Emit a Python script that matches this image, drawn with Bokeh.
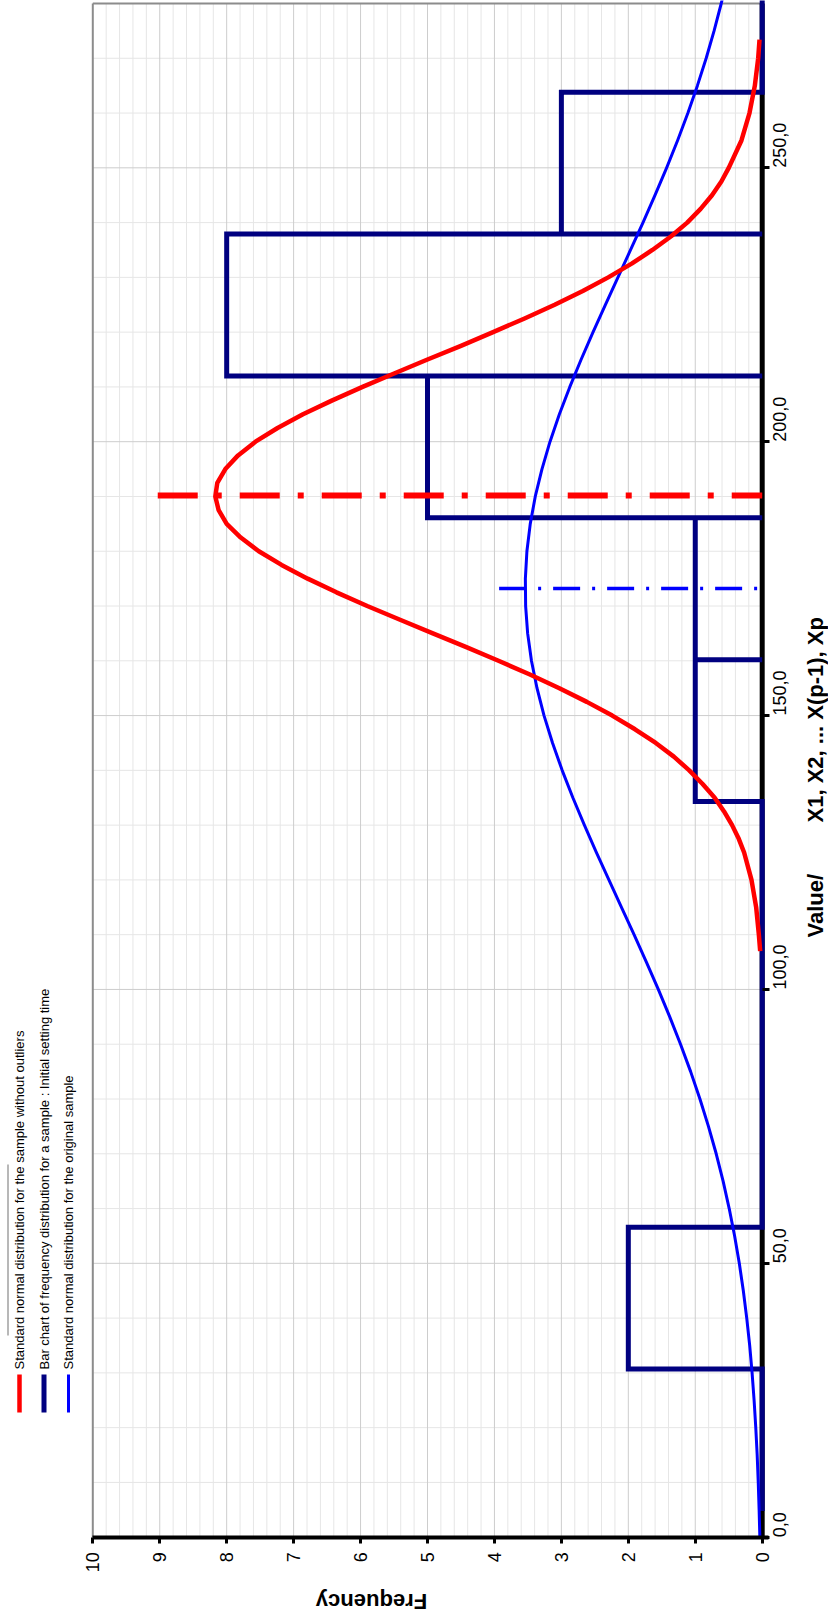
import math
from bokeh.plotting import figure
from bokeh.models import Range1d, FixedTicker, LinearAxis
from bokeh.embed import file_html
from bokeh.resources import INLINE
from bokeh.core.properties import value

# ---------------- data ----------------
bin_lo = [4.8, 30.7, 56.6, 82.5, 108.4, 134.3, 160.2, 186.1, 212.0, 237.9, 263.8]
bin_hi = [30.7, 56.6, 82.5, 108.4, 134.3, 160.2, 186.1, 212.0, 237.9, 263.8, 289.7]
bin_freq = [0, 2, 0, 0, 0, 1, 1, 5, 8, 3, 0]

red_val = [107, 110, 115, 120, 125, 127.5, 130, 132.5, 135, 137.5, 140, 142.5, 145, 147.5,
           150, 152.5, 155, 157.5, 160, 162.5, 165, 167.5, 170, 172.5, 175, 177.5, 180,
           182.5, 185, 187.5, 190, 192.5, 195, 197.5, 200, 202.5, 205, 207.5, 210, 212.5,
           215, 217.5, 220, 222.5, 225, 227.5, 230, 232.5, 235, 237.5, 240, 242.5, 245,
           247.5, 250, 255, 260, 265, 270, 273.4]
red_freq = [0.03, 0.05, 0.09, 0.16, 0.27, 0.35, 0.45, 0.57, 0.71, 0.89, 1.09, 1.32, 1.59, 1.90,
            2.24, 2.62, 3.03, 3.47, 3.94, 4.42, 4.92, 5.41, 5.90, 6.36, 6.79, 7.18, 7.52,
            7.79, 8.00, 8.12, 8.17, 8.14, 8.02, 7.83, 7.57, 7.24, 6.86, 6.43, 5.97, 5.49,
            5.00, 4.50, 4.02, 3.55, 3.10, 2.68, 2.30, 1.95, 1.64, 1.36, 1.12, 0.92, 0.75,
            0.61, 0.50, 0.31, 0.19, 0.11, 0.06, 0.04]

blue_val = [0, 5, 10, 15, 20, 25, 30, 35, 40, 45, 50, 55, 60, 65, 70, 75, 80, 85, 90, 95,
            100, 105, 110, 115, 120, 125, 130, 135, 140, 145, 150, 155, 160, 165, 170, 175,
            180, 185, 190, 195, 200, 205, 210, 215, 220, 225, 230, 235, 240, 245, 250, 255,
            260, 265, 270, 275, 280, 285]
blue_freq = [0.035, 0.046, 0.059, 0.075, 0.096, 0.121, 0.151, 0.187, 0.231, 0.282,
             0.342, 0.412, 0.493, 0.584, 0.687, 0.803, 0.930, 1.069, 1.220, 1.381,
             1.552, 1.730, 1.914, 2.102, 2.290, 2.476, 2.656, 2.828, 2.988, 3.132,
             3.259, 3.364, 3.447, 3.504, 3.534, 3.538, 3.515, 3.465, 3.390, 3.290,
             3.170, 3.030, 2.874, 2.705, 2.527, 2.343, 2.155, 1.967, 1.781, 1.601,
             1.428, 1.264, 1.110, 0.968, 0.837, 0.719, 0.612, 0.517]

red_mean = 190.2
red_mean_len = 9.03
blue_mean = 173.2
blue_mean_len = 3.93

freq_ticks = [0, 1, 2, 3, 4, 5, 6, 7, 8, 9, 10]
value_ticks = [0, 50, 100, 150, 200, 250]
value_tick_labels = ["0,0", "50,0", "100,0", "150,0", "200,0", "250,0"]

legend_texts = ["Standard normal distribution for the sample without outliers",
                "Bar chart of frequency distribution for a sample :  Initial setting time",
                "Standard normal distribution for the original sample"]
legend_colors = ["#ff0000", "#000080", "#0000ff"]
legend_widths = [4.5, 5, 3]

x_title = "Frequency"
y_title_a = "Value/"
y_title_b = "X1, X2,  ... X(p-1), Xp"

FONT = "Liberation Sans"

# ---------------- layout helpers (canvas pixel -> data) ----------------
W, H = 828, 1615
PX_PER_F = 66.94     # pixels per frequency unit
PX_PER_V = 5.4775    # pixels per value unit
X_ZERO = 761.7       # canvas x of frequency 0
Y_ZERO = 1536.7      # canvas y of value 0


def fx(px):
    return (X_ZERO - px) / PX_PER_F


def fy(py):
    return (Y_ZERO - py) / PX_PER_V


F_MAX = 10
V_TOP = 280

p = figure(width=W, height=H,
           x_range=Range1d(fx(0), fx(W)), y_range=Range1d(fy(H), fy(0)),
           x_axis_type=None, y_axis_type=None,
           output_backend="svg", toolbar_location=None, min_border=0)
p.outline_line_color = None
p.background_fill_color = "white"
p.border_fill_color = "white"

# ---- grid lines (plot area only) ----
minor_f = [i / 5 for i in range(1, 50) if i % 5 != 0]
major_f = [f for f in freq_ticks if 0 < f < F_MAX]
minor_v = [v for v in range(10, 280, 10) if v % 50 != 0]
major_v = [v for v in value_ticks if v > 0]
p.segment(x0=minor_f, y0=[0] * len(minor_f), x1=minor_f, y1=[V_TOP] * len(minor_f),
          line_color="#e6e6e6", line_width=1)
p.segment(x0=[0] * len(minor_v), y0=minor_v, x1=[F_MAX] * len(minor_v), y1=minor_v,
          line_color="#e6e6e6", line_width=1)
p.segment(x0=major_f, y0=[0] * len(major_f), x1=major_f, y1=[V_TOP] * len(major_f),
          line_color="#cdcdcd", line_width=1)
p.segment(x0=[0] * len(major_v), y0=major_v, x1=[F_MAX] * len(major_v), y1=major_v,
          line_color="#cdcdcd", line_width=1)
# plot-area border (left and top)
p.segment(x0=[F_MAX, F_MAX], y0=[0, V_TOP], x1=[F_MAX, 0], y1=[V_TOP, V_TOP],
          line_color="#8c8c8c", line_width=2)
# value axis line (under the data)
p.segment(x0=[0], y0=[0], x1=[0], y1=[V_TOP], line_color="black", line_width=5)

# ---- histogram outline ----
hx, hy = [], []
for lo, hi, f in zip(bin_lo, bin_hi, bin_freq):
    hx += [0, f, f, 0]
    hy += [lo, lo, hi, hi]
p.line(hx, hy, line_color="#000080", line_width=5, line_join="miter")

# ---- normal curves ----
p.line(blue_freq, blue_val, line_color="#0000ff", line_width=3, line_join="round")
p.line(red_freq, red_val, line_color="#ff0000", line_width=4.5, line_join="round")

# ---- mean lines ----
p.segment(x0=[red_mean_len], y0=[red_mean], x1=[0], y1=[red_mean],
          line_color="#ff0000", line_width=6, line_dash="40 18 6 18")
p.segment(x0=[blue_mean_len], y0=[blue_mean], x1=[0], y1=[blue_mean],
          line_color="#0000ff", line_width=3.5, line_dash="27 12 3 12")

# ---- axes ----
xa = LinearAxis(fixed_location=0, bounds=(-0.1, F_MAX),
                ticker=FixedTicker(ticks=freq_ticks))
xa.major_label_orientation = math.pi / 2
xa.major_label_text_font = FONT
xa.major_label_text_font_size = "18px"
xa.major_label_text_color = "black"
xa.axis_line_color = "black"
xa.axis_line_width = 4
xa.major_tick_line_color = "black"
xa.major_tick_line_width = 3
xa.major_tick_out = 6
xa.major_tick_in = 0
xa.minor_tick_out = 0
xa.minor_tick_in = 0
xa.major_label_standoff = 9
p.add_layout(xa, "below")

ya = LinearAxis(fixed_location=0, bounds=(0, V_TOP),
                ticker=FixedTicker(ticks=value_ticks))
ya.major_label_overrides = {t: s for t, s in zip(value_ticks, value_tick_labels)}
ya.major_label_orientation = math.pi / 2
ya.major_label_text_font = FONT
ya.major_label_text_font_size = "18px"
ya.major_label_text_color = "black"
ya.axis_line_color = None
ya.major_tick_line_color = "black"
ya.major_tick_line_width = 3
ya.major_tick_out = 7
ya.major_tick_in = 0
ya.minor_tick_out = 0
ya.minor_tick_in = 0
ya.major_label_standoff = 10
p.add_layout(ya, "right")

# ---- axis titles ----
p.text(x=[fx(371)], y=[fy(1601)], text=[x_title], angle=math.pi,
       text_align="center", text_baseline="middle",
       text_font=value(FONT), text_font_size="22px", text_font_style="bold",
       text_color="black")
p.text(x=[fx(814.5), fx(814.5)], y=[fy(937), fy(822)], text=[y_title_a, y_title_b],
       angle=math.pi / 2, text_align="left", text_baseline="middle",
       text_font=value(FONT), text_font_size="22px", text_font_style="bold",
       text_color="black")

# ---- legend ----
leg_x = [fx(19), fx(43.5), fx(68)]
p.segment(x0=leg_x, y0=[fy(1374)] * 3, x1=leg_x, y1=[fy(1412)] * 3,
          line_color=legend_colors, line_width=legend_widths)
p.text(x=leg_x, y=[fy(1369)] * 3, text=legend_texts, angle=math.pi / 2,
       text_align="left", text_baseline="middle",
       text_font=value(FONT), text_font_size="13px", text_color="black")
p.segment(x0=[fx(7.5)], y0=[fy(1164)], x1=[fx(7.5)], y1=[fy(1335)],
          line_color="#a0a0a0", line_width=1.5)

open("out.html", "w").write(file_html(p, INLINE))
